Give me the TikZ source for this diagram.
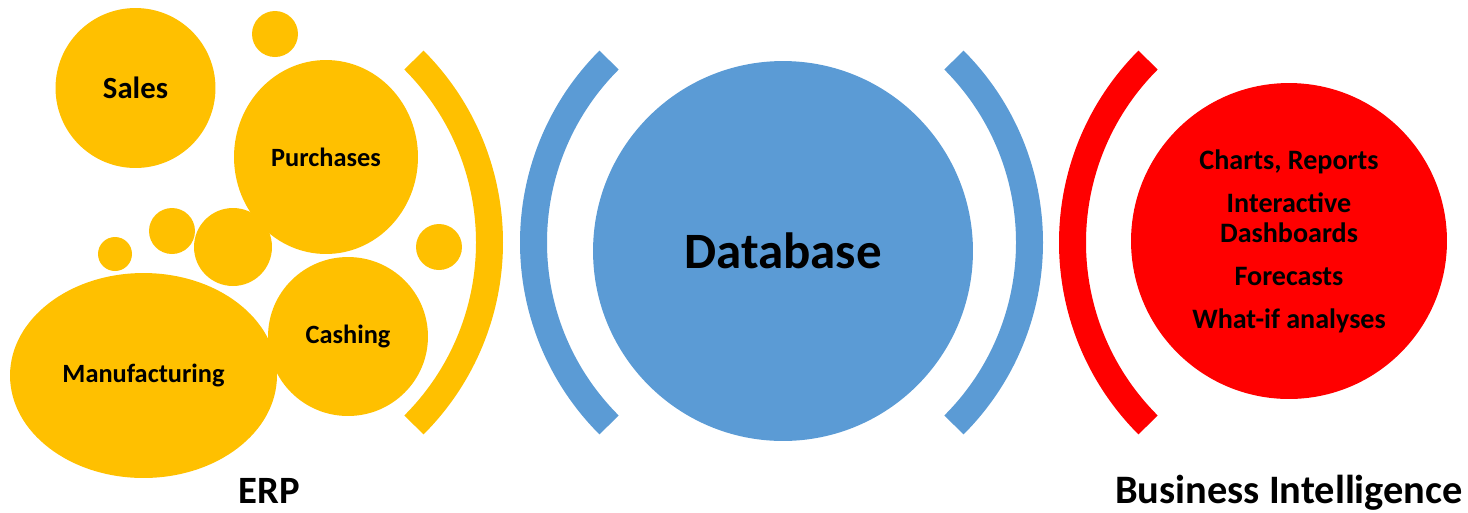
\documentclass[tikz,border=0pt]{standalone}
\usepackage{fontspec}
\setmainfont{Carlito}
\usetikzlibrary{shapes.geometric}
\definecolor{erpyellow}{HTML}{FFC000}
\definecolor{dbblue}{HTML}{5B9BD5}
\definecolor{bired}{HTML}{FF0000}

\begin{document}
\begin{tikzpicture}[
        x=0.02cm, y=-0.02cm,
        bubble/.style={ellipse, fill=erpyellow, inner sep=0pt, align=center, font=\bfseries\fontsize{15}{18}\selectfont},
        dot/.style={circle, fill=erpyellow, inner sep=0pt},
        ring/.style={line width=0.54cm, line cap=butt},
        title/.style={anchor=base, font=\bfseries\fontsize{22}{26}\selectfont}
        ]
        \useasboundingbox (0,0) rectangle (1468,512);
        \clip (0,0) rectangle (1468,512);

        % ERP bubbles
        \node (sales) [bubble, minimum width=3.2cm, minimum height=3.2cm, font=\bfseries\fontsize{17.5}{20}\selectfont] at (135.5,88) {Sales};
        \node (purchases) [bubble, minimum width=3.68cm, minimum height=3.88cm] at (326,157) {Purchases};
        \node (manufacturing) [bubble, minimum width=5.34cm, minimum height=4.1cm] at (143.5,375.5) {Manufacturing};
        \node (cashing) [bubble, minimum width=3.2cm, minimum height=3.18cm] at (348,336.5) {Cashing};
        \node (dot1) [dot, minimum size=0.92cm] at (275,34) {};
        \node (dot2) [dot, minimum size=0.68cm] at (115,254) {};
        \node (dot3) [dot, minimum size=0.92cm] at (172,231) {};
        \node (dot4) [dot, minimum size=1.56cm] at (233,247) {};
        \node (dot5) [dot, minimum size=0.92cm] at (439,247) {};

        % Database
        \node (database) [circle, fill=dbblue, minimum size=7.6cm, inner sep=0pt, font=\bfseries\fontsize{29}{34}\selectfont] at (783,251) {Database};

        % Business Intelligence
        \node (bi) [circle, fill=bired, minimum size=6.32cm, inner sep=0pt, align=center, font=\bfseries\fontsize{16}{17}\selectfont] at (1289,241)
            {Charts, Reports\\[7.5pt] Interactive\\ Dashboards\\[7.5pt] Forecasts\\[7.5pt] What-if analyses};

        % Brackets
        \coordinate (erpc) at (231.5,242.5);
        \coordinate (dbl) at (791.5,242.5);
        \coordinate (dbr) at (771.5,242.5);
        \coordinate (bic) at (1330.5,242.5);
        \draw [ring, erpyellow] (erpc) ++(-45:258) arc[start angle=-45, end angle=45, radius=258];
        \draw [ring, dbblue] (dbl) ++(135:258) arc[start angle=135, end angle=225, radius=258];
        \draw [ring, dbblue] (dbr) ++(-45:258) arc[start angle=-45, end angle=45, radius=258];
        \draw [ring, bired] (bic) ++(135:258) arc[start angle=135, end angle=225, radius=258];

        % Titles
        \node (erp) [title] at (269,503) {ERP};
        \node (bititle) [title, font=\bfseries\fontsize{23}{27}\selectfont] at (1289,503) {Business Intelligence};

    \end{tikzpicture}
\end{document}
